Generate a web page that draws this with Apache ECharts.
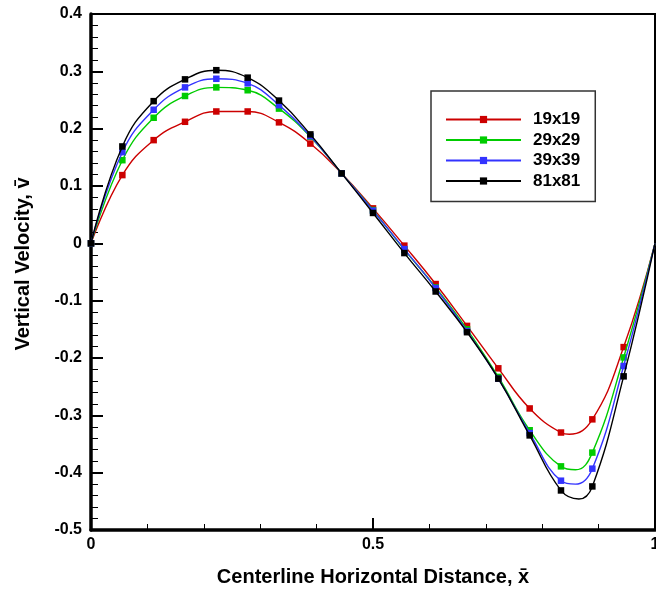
<!DOCTYPE html>
<html>
<head>
<meta charset="utf-8">
<script src="https://cdn.jsdelivr.net/npm/echarts@6/dist/echarts.min.js"></script>
<style>
  html, body { margin: 0; padding: 0; background: #fff; }
  #chart { width: 656px; height: 595px; }
</style>
</head>
<body>
<div id="chart"></div>
<script>
// marker positions along the centerline (every 1/18)
var xs = [0, 0.0556, 0.1111, 0.1667, 0.2222, 0.2778, 0.3333, 0.3889, 0.4444, 0.5,
          0.5556, 0.6111, 0.6667, 0.7222, 0.7778, 0.8333, 0.8889, 0.9444, 1];

var v19 = [0, 0.119, 0.180, 0.212, 0.230, 0.230, 0.211, 0.174, 0.122, 0.061,
           -0.004, -0.071, -0.144, -0.218, -0.288, -0.330, -0.307, -0.181, 0];
var v29 = [0, 0.145, 0.219, 0.257, 0.272, 0.267, 0.235, 0.186, 0.122, 0.058,
           -0.011, -0.077, -0.150, -0.233, -0.326, -0.389, -0.365, -0.199, 0];
var v39 = [0, 0.159, 0.233, 0.272, 0.287, 0.279, 0.241, 0.187, 0.122, 0.057,
           -0.010, -0.078, -0.153, -0.236, -0.331, -0.414, -0.393, -0.214, 0];
var v81 = [0, 0.169, 0.248, 0.286, 0.302, 0.289, 0.249, 0.190, 0.122, 0.053,
           -0.017, -0.084, -0.155, -0.236, -0.335, -0.431, -0.424, -0.232, 0];

// curve minimum between markers (drawn without a marker)
var min19 = [0.848, -0.333];
var min29 = [0.859, -0.395];
var min39 = [0.859, -0.420];
var min81 = [0.865, -0.446];

var names = ['19x19', '29x29', '39x39', '81x81'];
var colors = ['#cc0000', '#00cc00', '#3333ff', '#000000'];
var yTicks = [-0.5, -0.4, -0.3, -0.2, -0.1, 0, 0.1, 0.2, 0.3, 0.4];

var FONT = "'Liberation Sans', Arial, sans-serif";

function build(vals, extra) {
  var pts = xs.map(function (x, i) {
    // the wall point at x=1 sits under the frame, no marker there
    return x === 1 ? { value: [x, vals[i]], symbol: 'none' } : { value: [x, vals[i]] };
  });
  pts.push({ value: extra, symbol: 'none' });
  pts.sort(function (a, b) { return a.value[0] - b.value[0]; });
  return pts;
}

var allVals = [v19, v29, v39, v81];
var allMins = [min19, min29, min39, min81];

var series = names.map(function (n, i) {
  return {
    name: n,
    type: 'line',
    smooth: 0.45,
    data: build(allVals[i], allMins[i]),
    symbol: 'rect',
    symbolSize: 6.5,
    showAllSymbol: true,
    lineStyle: { color: colors[i], width: 1.4 },
    itemStyle: { color: colors[i] },
    z: 2 + i
  };
});

var chart = echarts.init(document.getElementById('chart'));
chart.setOption({
  animation: false,
  backgroundColor: '#fff',
  grid: {
    left: 91, top: 14, right: 1, bottom: 65,
    outerBoundsMode: 'none', containLabel: false,
    show: true, borderColor: '#000', borderWidth: 2, backgroundColor: 'transparent'
  },
  legend: {
    orient: 'vertical',
    left: 431, top: 91,
    data: names,
    itemWidth: 75, itemHeight: 9, itemGap: 3.5,
    padding: [20, 15, 12, 14],
    borderColor: '#333', borderWidth: 1.5,
    textStyle: { fontFamily: FONT, fontWeight: 'bold', fontSize: 17, color: '#000', lineHeight: 17, padding: [0, 0, 0, 7] }
  },
  xAxis: {
    type: 'value', min: 0, max: 1, interval: 0.5,
    name: 'Centerline Horizontal Distance, x\u0304',
    nameLocation: 'middle', nameGap: 37,
    nameTextStyle: { fontFamily: FONT, fontWeight: 'bold', fontSize: 20, color: '#000' },
    axisLine: { onZero: false, lineStyle: { color: '#000', width: 3.5 } },
    axisTick: { inside: true, length: 12, lineStyle: { color: '#000', width: 2 } },
    minorTick: { show: true, splitNumber: 5, length: 6, lineStyle: { color: '#000', width: 1 } },
    axisLabel: { fontFamily: FONT, fontWeight: 'bold', fontSize: 16, color: '#000', margin: 7 },
    splitLine: { show: false }
  },
  yAxis: {
    type: 'value', min: yTicks[0], max: yTicks[yTicks.length - 1], interval: 0.1,
    name: 'Vertical Velocity, v\u0304',
    nameLocation: 'middle', nameGap: 58, nameRotate: 90,
    nameTextStyle: { fontFamily: FONT, fontWeight: 'bold', fontSize: 20, color: '#000', padding: [0, 0, 0, 16] },
    axisLine: { onZero: false, lineStyle: { color: '#000', width: 3.5 } },
    axisTick: { inside: true, length: 12, lineStyle: { color: '#000', width: 2 } },
    minorTick: { show: true, splitNumber: 5, length: 7, lineStyle: { color: '#000', width: 1 } },
    axisLabel: {
      fontFamily: FONT, fontWeight: 'bold', fontSize: 16, color: '#000', margin: 9,
      formatter: function (v) { var r = Math.round(v * 10) / 10; return r === 0 ? '0' : String(r); }
    },
    splitLine: { show: false }
  },
  series: series
});
</script>
</body>
</html>
